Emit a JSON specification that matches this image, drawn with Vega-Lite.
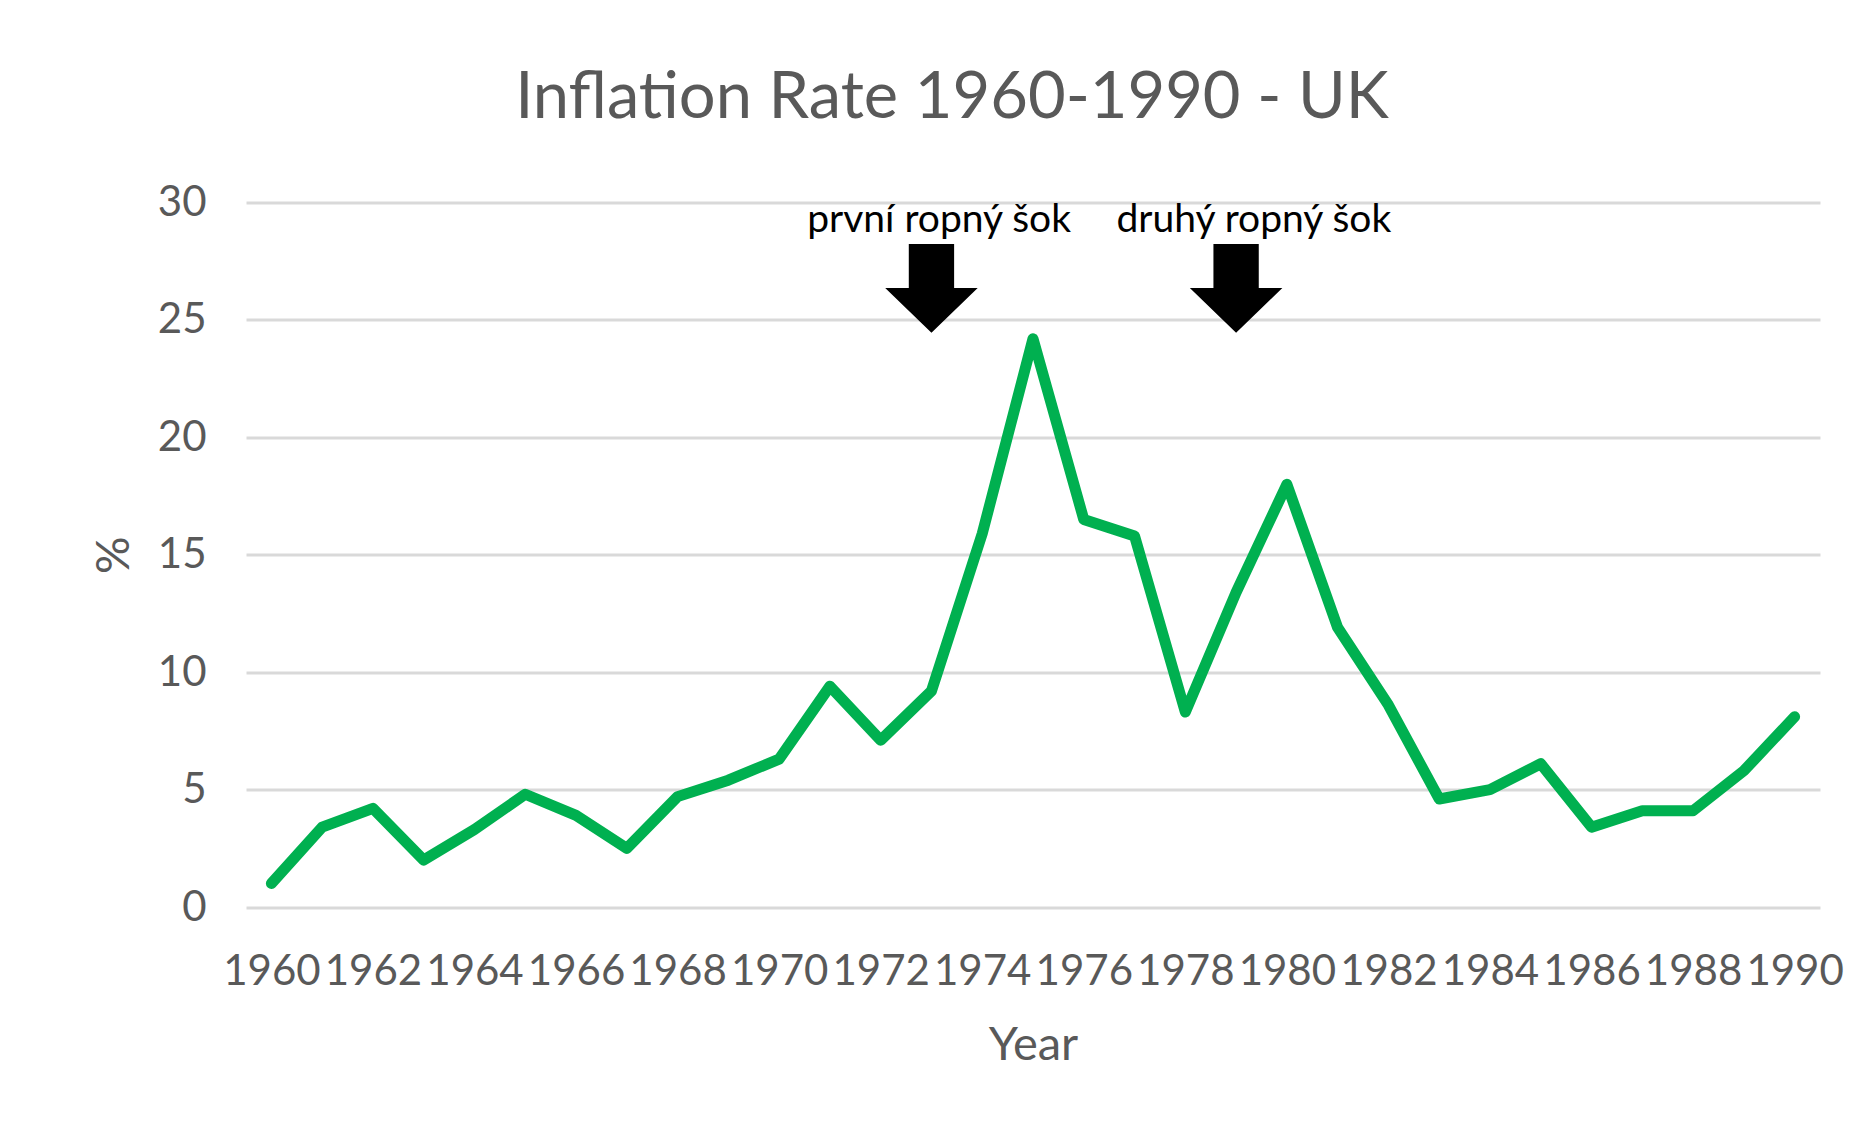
{
  "$schema": "https://vega.github.io/schema/vega-lite/v6.json",
  "autosize": {"type": "none"},
  "width": 1574,
  "height": 704.5,
  "padding": {"left": 246, "top": 202.5, "right": 55, "bottom": 225},
  "background": "white",
  "config": {
    "view": {"stroke": null},
    "font": "Lato"
  },
  "title": {
    "text": "Inflation Rate 1960-1990 - UK",
    "font": "Lato",
    "fontSize": 65,
    "fontWeight": "normal",
    "color": "#595959",
    "anchor": "middle",
    "frame": "group",
    "dx": -81,
    "offset": 50
  },
  "datasets": {
    "series": [
      {"year": 1960, "value": 1.0},
      {"year": 1961, "value": 3.4},
      {"year": 1962, "value": 4.2},
      {"year": 1963, "value": 2.0},
      {"year": 1964, "value": 3.3},
      {"year": 1965, "value": 4.8},
      {"year": 1966, "value": 3.9},
      {"year": 1967, "value": 2.5},
      {"year": 1968, "value": 4.7},
      {"year": 1969, "value": 5.4},
      {"year": 1970, "value": 6.3},
      {"year": 1971, "value": 9.4},
      {"year": 1972, "value": 7.1},
      {"year": 1973, "value": 9.2},
      {"year": 1974, "value": 15.9},
      {"year": 1975, "value": 24.2},
      {"year": 1976, "value": 16.5},
      {"year": 1977, "value": 15.8},
      {"year": 1978, "value": 8.3},
      {"year": 1979, "value": 13.4},
      {"year": 1980, "value": 18.0},
      {"year": 1981, "value": 11.9},
      {"year": 1982, "value": 8.6},
      {"year": 1983, "value": 4.6},
      {"year": 1984, "value": 5.0},
      {"year": 1985, "value": 6.1},
      {"year": 1986, "value": 3.4},
      {"year": 1987, "value": 4.1},
      {"year": 1988, "value": 4.1},
      {"year": 1989, "value": 5.8},
      {"year": 1990, "value": 8.1}
    ],
    "arrows": [
      {"year": 1973, "value": 26.36},
      {"year": 1979, "value": 26.36}
    ],
    "labels": [
      {"year": 1973.15, "value": 28.75, "label": "první ropný šok"},
      {"year": 1979.35, "value": 28.75, "label": "druhý ropný šok"}
    ]
  },
  "layer": [
    {
      "data": {"name": "series"},
      "mark": {"type": "line", "color": "#00b050", "strokeWidth": 11, "strokeCap": "round", "strokeJoin": "round"},
      "encoding": {
        "x": {
          "field": "year",
          "type": "quantitative",
          "scale": {"domain": [1959.5, 1990.5], "nice": false, "zero": false},
          "axis": {
            "title": "Year",
            "values": [1960, 1962, 1964, 1966, 1968, 1970, 1972, 1974, 1976, 1978, 1980, 1982, 1984, 1986, 1988, 1990],
            "format": "d",
            "grid": false,
            "domain": false,
            "ticks": false,
            "tickSize": 0,
            "labelPadding": 44,
            "labelFont": "Lato",
            "labelFontSize": 42,
            "labelColor": "#595959",
            "labelFlush": false,
            "labelOverlap": false,
            "titleFont": "Lato",
            "titleFontSize": 47,
            "titleFontWeight": "normal",
            "titleColor": "#595959",
            "titlePadding": 30
          }
        },
        "y": {
          "field": "value",
          "type": "quantitative",
          "scale": {"domain": [0, 30], "nice": false},
          "axis": {
            "title": "%",
            "values": [0, 5, 10, 15, 20, 25, 30],
            "grid": true,
            "gridColor": "#d9d9d9",
            "gridWidth": 3,
            "domain": false,
            "ticks": false,
            "tickSize": 0,
            "labelPadding": 40,
            "labelFont": "Lato",
            "labelFontSize": 42,
            "labelColor": "#595959",
            "labelFlush": false,
            "titleFont": "Lato",
            "titleFontSize": 47,
            "titleFontWeight": "normal",
            "titleColor": "#595959",
            "titlePadding": 19
          }
        }
      }
    },
    {
      "data": {"name": "arrows"},
      "mark": {
        "type": "point",
        "shape": "M-0.49,-0.95 L0.49,-0.95 L0.49,0 L1,0 L0,0.97 L-1,0 L-0.49,0 Z",
        "filled": true,
        "color": "black",
        "opacity": 1,
        "size": 8556,
        "strokeWidth": 0
      },
      "encoding": {
        "x": {"field": "year", "type": "quantitative"},
        "y": {"field": "value", "type": "quantitative"}
      }
    },
    {
      "data": {"name": "labels"},
      "mark": {"type": "text", "font": "Lato", "fontSize": 39, "color": "black", "baseline": "alphabetic", "align": "center"},
      "encoding": {
        "x": {"field": "year", "type": "quantitative"},
        "y": {"field": "value", "type": "quantitative"},
        "text": {"field": "label"}
      }
    }
  ]
}
